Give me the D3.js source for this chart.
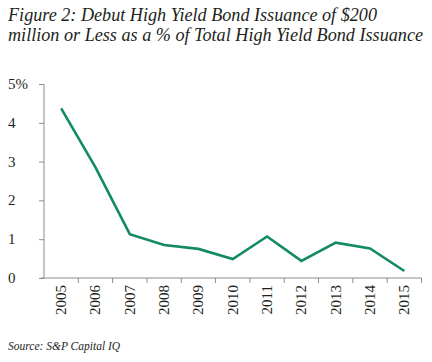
<!DOCTYPE html>
<html>
<head>
<meta charset="utf-8">
<script src="https://cdn.jsdelivr.net/npm/d3@7"></script>
<style>
  body { margin: 0; background: #fff; }
  text { font-family: "Liberation Serif", "DejaVu Serif", serif; fill: #231f20; }
</style>
</head>
<body>
<svg id="chart" width="432" height="362"></svg>
<script>
// data
var years = ["2005","2006","2007","2008","2009","2010","2011","2012","2013","2014","2015"];
var share = [4.37, 2.85, 1.13, 0.85, 0.75, 0.49, 1.07, 0.44, 0.91, 0.76, 0.18];
var yTicks = [0, 1, 2, 3, 4, 5];
var titleLines = ["Figure 2: Debut High Yield Bond Issuance of $200",
                  "million or Less as a % of Total High Yield Bond Issuance"];
var source = "Source: S&P Capital IQ";

var svg = d3.select("#chart");
var plotLeft = 44, plotRight = 421.5, plotTop = 84, plotBottom = 278;

var x = d3.scaleBand().domain(years).range([plotLeft, plotRight]);
var y = d3.scaleLinear().domain([0, 5]).range([plotBottom, plotTop]);

// title
svg.selectAll("text.title")
  .data(titleLines)
  .join("text")
  .attr("class", "title")
  .attr("x", 8)
  .attr("y", (d, i) => 21 + i * 20)
  .attr("font-size", 18)
  .attr("font-style", "italic")
  .attr("textLength", (d, i) => i ? 415 : 369)
  .attr("lengthAdjust", "spacingAndGlyphs")
  .text(d => d);

// y axis
var yAxis = svg.append("g")
  .attr("transform", "translate(" + plotLeft + ",0)")
  .call(d3.axisLeft(y).tickValues(yTicks).tickSize(5).tickFormat(""));
yAxis.select(".domain").attr("stroke", "#8c8c8c").attr("d", "M0," + plotTop + "V" + plotBottom);
yAxis.selectAll(".tick line").attr("stroke", "#8c8c8c");

svg.selectAll("text.ylab")
  .data(yTicks)
  .join("text")
  .attr("class", "ylab")
  .attr("x", 8)
  .attr("y", d => y(d) + 5)
  .attr("font-size", 15)
  .text(d => d === 5 ? "5%" : d);

// x axis
var xAxis = svg.append("g")
  .attr("transform", "translate(0," + plotBottom + ")")
  .call(d3.axisBottom(x).tickSize(0).tickFormat(""));
xAxis.select(".domain").attr("stroke", "#8c8c8c").attr("d", "M" + (plotLeft - 3) + ",0H" + plotRight);

svg.append("g")
  .selectAll("line")
  .data(years)
  .join("line")
  .attr("x1", (d, i) => plotLeft + x.step() * (i + 1))
  .attr("x2", (d, i) => plotLeft + x.step() * (i + 1))
  .attr("y1", plotBottom)
  .attr("y2", plotBottom + 5)
  .attr("stroke", "#8c8c8c");

svg.selectAll("text.xlab")
  .data(years)
  .join("text")
  .attr("class", "xlab")
  .attr("transform", d => "translate(" + (x(d) + x.bandwidth() / 2 + 5) + "," + (plotBottom + 7) + ") rotate(-90)")
  .attr("text-anchor", "end")
  .attr("font-size", 15)
  .text(d => d);

// line
var line = d3.line()
  .x((d, i) => x(years[i]) + x.bandwidth() / 2)
  .y(d => y(d));

svg.append("path")
  .datum(share)
  .attr("d", line)
  .attr("fill", "none")
  .attr("stroke", "#138a66")
  .attr("stroke-width", 2.6)
  .attr("stroke-linejoin", "miter");

// source
svg.append("text")
  .attr("x", 8)
  .attr("y", 350)
  .attr("font-size", 11.5)
  .attr("font-style", "italic")
  .text(source);
</script>
</body>
</html>
